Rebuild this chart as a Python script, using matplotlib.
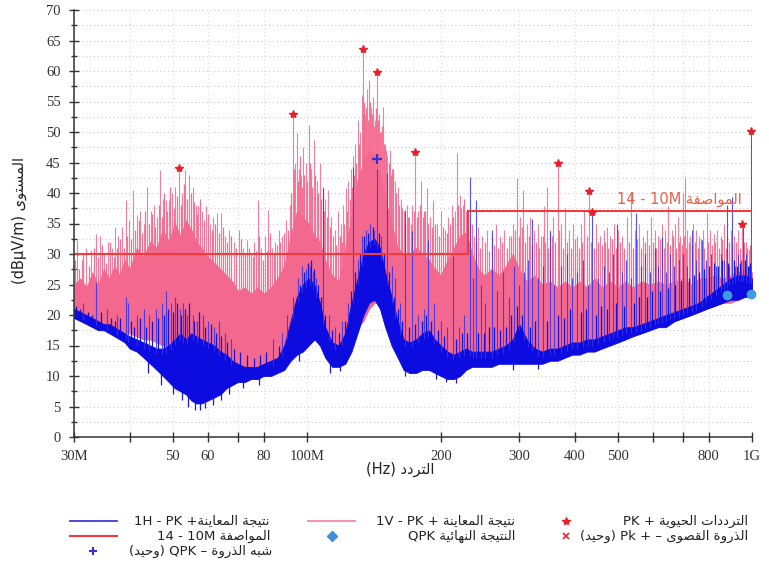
import numpy as np
import matplotlib
matplotlib.use("Agg")
import matplotlib.pyplot as plt
from matplotlib.lines import Line2D
from matplotlib.ticker import FixedLocator, FixedFormatter, MultipleLocator, NullLocator

# ---------------- data (MHz / dBuV/m) ----------------
F = [30, 31, 32, 33, 34, 35, 36, 37, 38, 39, 40,
     41.5, 43, 44.5, 46, 47.5, 49, 50.5, 52, 53.5, 55, 56.5, 58,
     60, 62, 64, 66, 68, 70,
     72.5, 75, 77.5, 80,
     83, 86, 89, 92, 95, 98, 101, 104, 107, 110,
     114, 118, 122, 126, 130, 134, 138, 142, 146, 150,
     155, 160, 165, 170, 176, 182, 188, 194, 200,
     207, 214, 221, 228, 235, 243, 251, 260, 270, 280, 290, 300,
     312, 325, 338, 352, 366, 380, 395, 410, 426, 443, 460, 480, 500,
     520, 540, 565, 590, 615, 640, 670, 700, 730, 760, 790, 825, 860, 895, 930, 965, 1000]

# vertical (V) scan: lower edge and dense-body top
V_LOW = [20.5, 20, 19.5, 19.5, 19, 18.5, 18, 18, 17.5, 17, 17,
         16.5, 16, 16, 15.5, 15, 14.5, 14, 14, 14, 13.5, 13.5, 13,
         13, 13, 12.5, 12.5, 12, 12,
         11.5, 11, 11, 11,
         11.5, 12, 13, 14, 16, 17, 17, 17, 16, 15,
         15, 15, 15.5, 16, 18, 19, 21, 22, 22, 19,
         16, 15, 14, 13.5, 13.5, 13.5, 13.5, 13.5, 13,
         13, 13, 13, 13, 13, 13, 13, 13, 13.5, 13.5, 13.5, 14,
         14, 14, 14, 14, 14.5, 14.5, 15, 15, 15.5, 15.5, 16, 16, 16.5,
         16.5, 17, 17.5, 18, 18, 18.5, 19, 19.5, 20, 20.5, 21, 21.5, 22, 22, 22.5, 23, 23]
V_CORE = [25, 26, 24.5, 27, 25, 27.5, 26, 28, 26.5, 29, 27.5,
          31, 29.5, 32, 31, 34, 32, 35, 33, 35.5, 34, 32, 31,
          29.5, 28.5, 27.5, 26.5, 25.5, 24,
          24.5, 23.5, 24.5, 23.5,
          24.5, 26, 28, 33, 37, 36, 35, 33, 32, 29,
          26.5, 25.5, 31, 36, 42, 45, 47, 46, 43, 39,
          35, 31, 30, 30, 31, 30, 29, 27.5, 26.5,
          29, 31, 33, 33.5, 30, 27.5, 26.5, 27.5, 26.5, 28, 30, 27.5,
          25.5, 26.5, 25, 25.5, 24.5, 25.5, 24.5, 25.5, 24.5, 26, 24.5, 25.5, 24.5,
          25.5, 24.5, 25.5, 25, 25.5, 25, 25.5, 26, 25, 26, 26, 26.5, 26, 26.5, 27, 27.5, 27]

# horizontal (H) scan
H_LOW = [19.5, 19, 18.5, 18, 17.5, 17.5, 17, 16.5, 16, 15.5, 14.5,
         14, 13, 12, 11, 10, 9, 8, 7.5, 7, 6, 5.5, 5.5,
         6, 6.5, 7, 8, 8.5, 9,
         9, 9.5, 9.5, 10,
         10, 10.5, 11, 12.5, 13.5, 14, 15, 16, 15, 13,
         11.5, 11.5, 12, 14, 17, 20, 22, 22.5, 21, 18,
         15, 13, 11, 10.5, 10.5, 11, 11, 10.5, 10,
         9.5, 9.5, 10, 11, 11.5, 11.5, 11.5, 11.5, 12, 12, 12, 12,
         12, 12, 12, 12.5, 12.5, 13, 13.5, 13.5, 14, 14, 14.5, 15, 15.5,
         16, 16.5, 17, 17.5, 18, 18, 19, 19.5, 20, 20.5, 21, 21.5, 22, 22.5, 22.5, 23, 23]
H_CORE = [21, 20.5, 20, 19.5, 19, 18.5, 18.5, 18, 17.5, 17, 16.5,
          16, 15.5, 15, 14.5, 14.5, 15, 16, 17, 16, 17, 16.5, 16,
          15.5, 15, 14, 13.5, 12.5, 12,
          11.5, 11.5, 11.5, 12,
          12.5, 13, 15, 19, 23, 25, 26, 25, 22, 18,
          15.5, 15, 17, 22, 26, 30, 32, 32.5, 31, 27,
          23, 19, 16, 15.5, 16, 17, 17.5, 16, 15,
          14, 13.5, 14, 14.5, 14, 14, 14, 14, 14.5, 15, 16, 18.5,
          16, 14.5, 14, 14.5, 14.5, 15, 15.5, 15.5, 16, 16, 16.5, 17, 17.5,
          18, 18, 18.5, 19, 19.5, 20, 20.5, 21, 21.5, 22, 23, 24, 25, 26, 26.5, 26.5, 26]

# tall individual peaks above the dense body (freq MHz, level)
V_PEAKS = [(30.5, 32.3), (31.2, 29), (31.9, 31), (32.8, 30.6), (33.6, 33.2), (34.3, 33), (35.0, 30),
           (35.8, 32), (36.5, 31), (37.0, 34.5), (37.7, 33), (38.5, 34.5), (39.2, 38.9), (39.8, 35.6),
           (40.7, 40.5), (41.5, 36.4), (42.3, 37), (43.0, 35), (43.8, 41), (44.6, 37), (45.3, 38),
           (46.1, 36), (46.9, 43.8), (47.5, 39), (48.2, 38.9), (49.0, 38.9), (49.8, 40), (50.7, 41),
           (51.7, 44.1), (52.5, 40), (53.4, 43.8), (54.5, 43), (55.4, 41), (56.3, 38), (57.1, 37.8),
           (58.2, 37), (59.4, 37.8), (60.5, 35), (61.7, 36), (63.0, 36.7), (64.3, 36.7), (65.5, 33),
           (67.0, 34), (68.5, 32), (70.5, 33.9), (72.0, 31), (73.3, 32.3), (75.0, 30), (76.3, 32),
           (77.6, 38.9), (79.0, 31), (80.5, 33), (82.0, 37.2), (83.5, 31), (85.0, 32), (86.5, 34),
           (88.0, 33), (90.0, 35.6), (91.5, 38), (93.0, 52.9), (94.0, 45), (94.9, 49.8), (96.0, 44),
           (97.0, 43), (98.0, 47.6), (99.5, 45), (101.1, 51.1), (102.3, 44), (103.6, 48.7), (105.2, 42),
           (107.0, 44.9), (108.5, 41), (110.0, 39), (111.6, 40.5), (113.5, 36), (115.5, 34), (117.5, 37),
           (119.5, 35), (120.8, 38), (122.2, 40.8), (124.0, 42), (125.5, 44), (127.0, 46), (128.5, 48),
           (130.2, 52), (131.5, 50), (132.8, 56), (134.0, 63.6), (135.3, 53), (136.6, 57), (138.2, 58.5),
           (139.6, 54), (141.1, 55.8), (142.5, 52), (144.0, 59.8), (145.3, 53), (146.8, 50), (148.6, 54.1),
           (150.2, 48), (151.8, 46), (153.5, 47), (155.5, 44), (157.5, 42), (160.0, 41), (162.5, 39),
           (165.0, 37), (167.5, 38), (170.0, 36), (172.5, 38), (175.4, 46.8), (178.0, 37), (180.9, 41.9),
           (183.5, 37), (185.9, 40.8), (189.0, 36), (192.4, 38.9), (196.0, 35), (200.0, 37), (204.0, 34),
           (208.0, 36), (212.0, 38), (215.0, 37), (217.4, 46.5), (220.4, 39.7), (224.0, 38), (228.0, 37),
           (232.0, 35), (237.0, 33), (242.0, 34.5), (248.0, 33), (254.0, 34), (260.0, 33), (266.0, 35),
           (272.0, 33), (278.0, 34), (284.0, 33), (290.0, 35), (297.0, 42.4), (301.5, 36), (306.4, 40.5),
           (312.0, 35), (318.0, 36), (324.0, 34), (330.0, 35), (336.0, 33), (341.0, 37.8), (345.9, 41),
           (352.0, 34), (358.0, 36), (366.7, 44.9), (373.0, 35), (380.4, 37.6), (388.0, 34), (396.0, 35),
           (404.0, 33), (412.0, 35), (420.0, 37.2), (431.0, 40.4), (446.0, 35), (456.0, 33), (464.0, 34),
           (472.0, 34.5), (481.0, 33), (490.0, 35), (500.0, 34), (511.0, 33), (524.0, 36.1), (534.7, 40),
           (546.0, 34), (558.0, 35), (570.0, 33), (582.0, 34), (592.0, 36), (604.0, 34), (616.0, 33),
           (628.0, 35), (638.0, 34), (648.6, 37.8), (660.0, 34), (670.0, 35), (682.0, 36), (690.0, 33),
           (700.0, 40), (707.3, 42.7), (716.0, 34), (726.0, 33), (738.0, 35), (750.0, 34), (762.0, 33),
           (775.0, 34), (791.5, 36.7), (805.0, 34), (820.0, 33.2), (835.0, 34), (850.0, 33), (865.0, 35),
           (880.0, 33), (895.0, 34), (912.0, 33), (930.0, 34), (951.0, 35), (968.0, 32), (983.0, 30.7)]

# smaller peaks that make up the ragged top of the V body
V_RIPPLE = [(30.2, 29), (30.8, 27.5), (31.5, 30), (32.4, 28), (33.2, 31), (33.9, 29.5), (34.7, 31.5),
            (35.4, 28.5), (36.2, 32), (36.8, 29.5), (37.4, 31), (38.1, 32.5), (38.9, 31), (39.5, 33),
            (40.3, 32.5), (41.1, 34), (41.9, 35.5), (42.7, 33.5), (43.4, 37), (44.2, 35), (45.0, 36.5),
            (45.7, 34.5), (46.5, 38), (47.2, 36), (47.9, 40), (48.6, 37), (49.4, 41), (50.3, 37.5),
            (51.2, 39.5), (52.1, 38), (52.9, 41.5), (53.9, 39), (54.9, 40), (55.9, 38.5), (56.7, 36.5),
            (57.6, 39), (58.8, 35.5), (60.0, 36.5), (61.1, 34), (62.3, 35), (63.6, 33.5), (64.9, 34.5),
            (66.2, 32), (67.7, 33), (69.3, 31), (71.2, 32.5), (72.7, 30), (74.2, 31), (75.7, 29.5),
            (77.0, 30.5), (78.3, 33), (79.7, 29), (81.2, 30.5), (82.8, 33.5), (84.2, 30), (85.8, 31.5),
            (87.2, 32), (89.0, 33.5), (90.8, 34), (92.3, 40), (93.6, 44), (95.4, 42), (96.5, 46),
            (97.5, 41), (98.8, 43), (100.3, 42), (101.7, 45), (102.9, 41), (104.4, 43), (106.0, 40),
            (107.8, 39), (109.2, 37), (110.8, 36), (112.5, 34.5), (114.5, 33), (116.5, 31.5), (118.5, 33),
            (120.0, 32), (121.5, 35), (123.0, 37), (124.8, 39), (126.3, 41), (127.8, 43), (129.3, 45),
            (130.9, 48), (133.4, 53), (134.7, 55), (136.0, 54), (137.4, 52), (138.9, 55), (140.3, 53),
            (141.8, 51), (143.2, 54), (144.7, 52), (146.0, 50), (147.6, 51), (149.4, 48), (151.0, 47),
            (152.6, 45), (154.5, 43), (156.5, 44), (158.7, 40), (161.2, 38), (163.7, 37.5), (166.2, 35),
            (168.7, 36), (171.2, 35), (173.8, 37), (176.7, 36), (179.4, 38), (182.2, 36), (184.7, 37),
            (187.5, 35), (190.7, 34.5), (194.2, 35), (198.0, 33), (202.0, 34.5), (206.0, 33.5), (210.0, 35),
            (213.5, 36), (218.8, 38), (222.2, 37.5), (226.0, 39), (230.0, 36), (234.5, 35), (239.5, 32),
            (245.0, 31), (251.0, 32), (257.0, 30.5), (263.0, 31.5), (269.0, 31), (275.0, 32), (281.0, 31),
            (287.0, 33), (293.5, 34), (299.5, 33), (304.0, 34.5), (309.0, 32), (315.0, 33), (321.0, 31.5),
            (327.0, 32), (333.0, 31), (338.5, 33), (343.5, 32), (349.0, 31), (355.0, 33), (361.0, 32),
            (369.5, 34), (376.0, 31), (384.0, 32), (392.0, 31), (400.0, 32.5), (408.0, 31), (416.0, 32),
            (425.0, 33), (435.0, 32), (441.0, 31), (451.0, 32), (460.0, 31.5), (468.0, 32), (476.0, 31),
            (485.0, 32.5), (495.0, 31), (505.0, 32), (517.0, 31), (529.0, 32), (540.0, 31), (552.0, 32.5),
            (564.0, 31), (576.0, 32), (587.0, 31.5), (598.0, 32), (610.0, 31), (622.0, 32.5), (633.0, 31),
            (643.0, 32), (654.0, 31.5), (665.0, 33), (676.0, 31), (686.0, 32), (695.0, 31.5), (704.0, 33),
            (711.0, 31), (721.0, 32), (732.0, 31.5), (744.0, 32), (756.0, 31), (768.0, 32.5), (782.0, 31),
            (798.0, 32), (812.0, 31.5), (827.0, 32), (842.0, 31), (857.0, 32.5), (872.0, 31), (887.0, 32),
            (903.0, 31.5), (920.0, 32), (940.0, 31), (960.0, 32), (975.0, 31), (990.0, 31.5)]

H_PEAKS = [(31.5, 22), (33.6, 25.2), (35.5, 21), (37.5, 20), (39.3, 23), (39.7, 22), (41.5, 20),
           (43.0, 21), (44.3, 20), (45.8, 21), (47.2, 22), (48.3, 24), (49.5, 22), (50.6, 23), (51.8, 21),
           (52.8, 22), (53.8, 20), (55.4, 20), (56.8, 19), (58.5, 20), (60.0, 19), (61.8, 18), (63.5, 19),
           (65.5, 17), (67.5, 16), (84.0, 16), (88.0, 17), (90.5, 20), (93.0, 23), (95.5, 26), (97.5, 28),
           (99.5, 27.5), (101.5, 28), (103.0, 27), (105.0, 26), (108.9, 40.8), (112.0, 20), (116.0, 18),
           (120.0, 19), (124.0, 22), (127.0, 44.3), (130.0, 29), (133.0, 33), (136.0, 34), (139.0, 35),
           (141.5, 34), (143.6, 44), (147.0, 33), (151.4, 43.2), (155.0, 28), (158.0, 26), (162.0, 22),
           (166.5, 37.2), (172.4, 33.7), (178.0, 20), (183.0, 21), (187.5, 32.3), (193.0, 22), (200.0, 19),
           (206.0, 18), (212.9, 29.6), (220.0, 18), (226.0, 20), (232.1, 42.7), (236.0, 26), (240.5, 38.9),
           (246.0, 25), (252.0, 22), (260.5, 33.9), (268.0, 24), (276.0, 27), (284.0, 23), (292.0, 28),
           (300.0, 25), (308.0, 27), (314.0, 29), (320.3, 35.8), (330.0, 26), (340.0, 28), (351.4, 33.7),
           (360.0, 25), (372.0, 28), (384.0, 30), (395.0, 26), (405.0, 27), (418.0, 29), (428.0, 25),
           (438.0, 36.9), (452.0, 26), (465.0, 28), (478.0, 27), (488.0, 30), (497.0, 35), (510.0, 27),
           (522.0, 29), (535.0, 26), (549.0, 36.7), (562.0, 28), (575.0, 30), (590.0, 27), (605.0, 31),
           (616.0, 28), (627.0, 32.8), (640.0, 27), (655.0, 30), (668.0, 28), (685.0, 29), (700.0, 30),
           (715.0, 28), (732.0, 33.9), (750.0, 29), (771.0, 32.3), (790.0, 29), (810.0, 30), (830.0, 28),
           (850.0, 30), (865.0, 29), (877.0, 38), (890.0, 28), (900.0, 39.4), (915.0, 28), (930.0, 30),
           (945.0, 29), (956.0, 35), (970.0, 30), (985.0, 28), (997.0, 50.2)]

H_RIPPLE = [(30.3, 21.5), (30.9, 21), (32.2, 20.5), (32.9, 20), (34.5, 20.5), (36.3, 19.5), (37.0, 19),
            (38.0, 19.5), (40.2, 19), (41.0, 18), (42.2, 19.5), (43.6, 18), (44.9, 19), (46.4, 19.5),
            (47.7, 20), (48.9, 21), (50.1, 20.5), (51.2, 22), (52.3, 20), (53.3, 21), (54.4, 22),
            (55.9, 19), (57.3, 20.5), (59.2, 18), (61.0, 18.5), (62.6, 17), (64.3, 16.5), (66.3, 15.5),
            (68.5, 14.5), (70.8, 14), (73.5, 13.5), (76.0, 13), (78.5, 13.5), (81.0, 14), (86.5, 15),
            (91.5, 18), (94.3, 22), (96.3, 25), (98.5, 27), (100.5, 28.5), (102.3, 29), (104.0, 27.5),
            (106.0, 25), (107.5, 23), (110.0, 20), (114.0, 17.5), (118.0, 17), (122.0, 19), (125.5, 24),
            (128.5, 27), (131.5, 30), (134.5, 33), (137.5, 33.5), (140.5, 34.5), (145.0, 33.5), (149.0, 30),
            (153.0, 27), (157.0, 23), (160.5, 21), (164.0, 19), (170.0, 18), (175.0, 18.5), (181.0, 19),
            (185.0, 20), (190.0, 19), (197.0, 17.5), (203.0, 16.5), (216.0, 16), (223.0, 17), (229.0, 17),
            (242.0, 17), (250.0, 17), (256.0, 18), (264.0, 18), (272.0, 17.5), (280.0, 18), (288.0, 20),
            (296.0, 21.5), (304.0, 20), (318.0, 18), (326.0, 19), (346.0, 19), (366.0, 20), (378.0, 19.5),
            (390.0, 21), (412.0, 20.5), (424.0, 21), (446.0, 20), (458.0, 21.5), (472.0, 21), (494.0, 22),
            (516.0, 21.5), (542.0, 22), (556.0, 23), (582.0, 23), (597.0, 24), (620.0, 24), (647.0, 24.5),
            (672.0, 25), (692.0, 25.5), (722.0, 26), (742.0, 26.5), (760.0, 27), (780.0, 27.5), (800.0, 28),
            (820.0, 28.5), (840.0, 28), (858.0, 29), (885.0, 28.5), (910.0, 29), (925.0, 28), (940.0, 28.5),
            (962.0, 29), (978.0, 28), (992.0, 28.5)]

# downward dips of the H trace below its lower edge
H_DIPS = [(44.0, 10.5), (47.0, 8.5), (50.0, 7), (52.5, 6), (54.2, 5), (56.0, 4.5), (57.5, 4.5),
          (59.0, 4.8), (61.5, 5.2), (64.0, 6), (67.0, 7), (72.0, 8), (78.0, 8.5), (96.0, 12.5),
          (113.0, 10.5), (119.0, 10.8), (166.0, 10), (195.0, 9.5), (205.0, 9), (216.0, 8.8),
          (290.0, 11), (330.0, 11.2)]

LIMIT_EDGES = [30, 230, 1000]
LIMIT_LEVELS = [30, 37]

STAR_F = [51.7, 93.0, 134.0, 144.0, 175.4, 366.7, 431.0, 438.0, 951.0, 997.0]
STAR_L = [44.1, 52.9, 63.6, 59.8, 46.8, 44.9, 40.4, 36.9, 35.0, 50.2]
QPK_F = [877.0, 997.0]
QPK_L = [23.3, 23.4]
QP_SINGLE_F = [144.0]
QP_SINGLE_L = [45.5]

XTICKS = [30, 40, 50, 60, 70, 80, 100, 200, 300, 400, 500, 600, 700, 800, 1000]
XTICK_LABELS = ["30M", "", "50", "60", "", "80", "100M", "200", "300", "400", "500", "", "", "800", "1G"]

# ---------------- Arabic shaping (presentation forms) ----------------
FORMS = {
    'ا': (0xFE8D, 0xFE8E, None, None), 'أ': (0xFE83, 0xFE84, None, None),
    'إ': (0xFE87, 0xFE88, None, None), 'آ': (0xFE81, 0xFE82, None, None),
    'ب': (0xFE8F, 0xFE90, 0xFE91, 0xFE92), 'ة': (0xFE93, 0xFE94, None, None),
    'ت': (0xFE95, 0xFE96, 0xFE97, 0xFE98), 'ث': (0xFE99, 0xFE9A, 0xFE9B, 0xFE9C),
    'ج': (0xFE9D, 0xFE9E, 0xFE9F, 0xFEA0), 'ح': (0xFEA1, 0xFEA2, 0xFEA3, 0xFEA4),
    'خ': (0xFEA5, 0xFEA6, 0xFEA7, 0xFEA8), 'د': (0xFEA9, 0xFEAA, None, None),
    'ذ': (0xFEAB, 0xFEAC, None, None), 'ر': (0xFEAD, 0xFEAE, None, None),
    'ز': (0xFEAF, 0xFEB0, None, None), 'س': (0xFEB1, 0xFEB2, 0xFEB3, 0xFEB4),
    'ش': (0xFEB5, 0xFEB6, 0xFEB7, 0xFEB8), 'ص': (0xFEB9, 0xFEBA, 0xFEBB, 0xFEBC),
    'ض': (0xFEBD, 0xFEBE, 0xFEBF, 0xFEC0), 'ط': (0xFEC1, 0xFEC2, 0xFEC3, 0xFEC4),
    'ظ': (0xFEC5, 0xFEC6, 0xFEC7, 0xFEC8), 'ع': (0xFEC9, 0xFECA, 0xFECB, 0xFECC),
    'غ': (0xFECD, 0xFECE, 0xFECF, 0xFED0), 'ف': (0xFED1, 0xFED2, 0xFED3, 0xFED4),
    'ق': (0xFED5, 0xFED6, 0xFED7, 0xFED8), 'ك': (0xFED9, 0xFEDA, 0xFEDB, 0xFEDC),
    'ل': (0xFEDD, 0xFEDE, 0xFEDF, 0xFEE0), 'م': (0xFEE1, 0xFEE2, 0xFEE3, 0xFEE4),
    'ن': (0xFEE5, 0xFEE6, 0xFEE7, 0xFEE8), 'ه': (0xFEE9, 0xFEEA, 0xFEEB, 0xFEEC),
    'و': (0xFEED, 0xFEEE, None, None), 'ى': (0xFEEF, 0xFEF0, None, None),
    'ي': (0xFEF1, 0xFEF2, 0xFEF3, 0xFEF4), 'ئ': (0xFE89, 0xFE8A, 0xFE8B, 0xFE8C),
}
LAM_ALEF = {'ا': (0xFEFB, 0xFEFC), 'أ': (0xFEF7, 0xFEF8), 'إ': (0xFEF9, 0xFEFA), 'آ': (0xFEF5, 0xFEF6)}


def shape(text):
    out, i, n, prev = [], 0, len(text), False
    while i < n:
        c = text[i]
        if c not in FORMS:
            out.append(c); prev = False; i += 1; continue
        if c == 'ل' and i + 1 < n and text[i + 1] in LAM_ALEF:
            iso, fin = LAM_ALEF[text[i + 1]]
            out.append(chr(fin if prev else iso)); prev = False; i += 2; continue
        f = FORMS[c]
        nxt = text[i + 1] if i + 1 < n else None
        can_next = f[2] is not None and nxt in FORMS
        if prev and can_next:
            g = f[3]
        elif prev:
            g = f[1]
        elif can_next:
            g = f[2]
        else:
            g = f[0]
        out.append(chr(g)); prev = can_next; i += 1
    return ''.join(out)


def ar(text):
    return shape(text)[::-1]


AR_FONT = "DejaVu Sans"

# ---------------- figure ----------------
fig = plt.figure(figsize=(7.69, 5.69), dpi=100)
ax = fig.add_axes([74 / 769, 1 - 437 / 569, 678 / 769, 427 / 569])
ax.set_xscale("log")
ax.set_xlim(30, 1000)
ax.set_ylim(0, 70)

PINK = "#f2688f"
BLUE = "#0c0ce0"

Fa = np.array(F)
logF = np.log(Fa)


def spikes(pairs, edge, color, lw, alpha, z, offset=-1.0):
    fs, ls = zip(*pairs)
    base = np.interp(np.log(fs), logF, edge) + offset
    ax.vlines(fs, base, ls, colors=color, lw=lw, alpha=alpha, zorder=z)


ax.fill_between(F, V_LOW, V_CORE, color=PINK, lw=0.6, zorder=2)
spikes(V_RIPPLE, V_CORE, PINK, 0.9, 0.95, 2)
spikes(V_PEAKS, V_CORE, PINK, 0.8, 0.85, 2)

ax.fill_between(F, H_LOW, H_CORE, color=BLUE, lw=0.6, zorder=3)
spikes(H_RIPPLE, H_CORE, BLUE, 0.9, 0.95, 3)
spikes(H_PEAKS, H_CORE, "#3434f0", 0.8, 0.85, 3)
spikes(H_DIPS, H_LOW, BLUE, 0.9, 0.95, 3, offset=1.0)

ax.stairs(LIMIT_LEVELS, LIMIT_EDGES, baseline=None, color="#f03c3c", lw=1.5, zorder=4)

ax.plot(STAR_F, STAR_L, ls="none", marker="*", ms=6, color="#e8202c", zorder=6, clip_on=False)
ax.plot(QPK_F, QPK_L, ls="none", marker="o", ms=6, color="#3d9be0", zorder=6, clip_on=False)
ax.plot(QP_SINGLE_F, QP_SINGLE_L, ls="none", marker="+", ms=7, mew=1.6, color="#3a2fc8", zorder=6)

ax.text(497, 39, "14 - 10M " + ar("المواصفة"), color="#e8604a", fontsize=10.5,
        family=AR_FONT, ha="left", va="center", zorder=7)

# axes styling
for s in ("top", "right"):
    ax.spines[s].set_visible(False)
for s in ("left", "bottom"):
    ax.spines[s].set_color("#333333")
    ax.spines[s].set_linewidth(1.1)
    ax.spines[s].set_zorder(8)

ax.xaxis.set_major_locator(FixedLocator(XTICKS))
ax.xaxis.set_major_formatter(FixedFormatter(XTICK_LABELS))
ax.xaxis.set_minor_locator(NullLocator())
ax.yaxis.set_major_locator(MultipleLocator(5))
ax.yaxis.set_minor_locator(MultipleLocator(2.5))
ax.tick_params(which="major", direction="inout", length=7, width=1, color="#333333",
               labelsize=10.5, labelcolor="#333333", labelfontfamily="Liberation Serif")
ax.tick_params(which="minor", direction="inout", length=5, width=1, color="#333333")
ax.tick_params(axis="x", pad=6)
ax.tick_params(axis="y", pad=6)

ax.grid(True, axis="y", which="both", color="#cfcfcf", ls=(0, (1, 2.5)), lw=0.8, zorder=0)
ax.grid(True, axis="x", which="major", color="#dcdcdc", ls=(0, (1, 2.5)), lw=0.8, zorder=0)
ax.set_axisbelow(True)

ax.set_xlabel("(Hz) " + ar("التردد"), family=AR_FONT, fontsize=10.5, color="#222222")
ax.xaxis.set_label_coords((400 - 74) / 678, (437 - 462) / 427)
ax.set_ylabel("(dBµV/m) " + ar("المستوى"), family=AR_FONT, fontsize=10.5, color="#222222")
ax.yaxis.set_label_coords((27 - 74) / 678, (437 - 220) / 427)

# ---------------- legend (three columns, right-aligned text) ----------------
def fx(px):
    return px / 769


def fy(py):
    return 1 - py / 569


rows = [521, 536, 551]
LEG_FS = 9.5


def handle_line(x0, x1, y, color, lw):
    fig.add_artist(Line2D([fx(x0), fx(x1)], [fy(y), fy(y)], color=color, lw=lw,
                          transform=fig.transFigure))


def handle_marker(x, y, **kw):
    fig.add_artist(Line2D([fx(x)], [fy(y)], ls="none", transform=fig.transFigure, **kw))


def leg_text(xr, y, s):
    fig.text(fx(xr), fy(y), s, ha="right", va="center", fontsize=LEG_FS, family=AR_FONT,
             color="#222222")


handle_line(70, 117, rows[0], "#3b3bd8", 1.3)
leg_text(270, rows[0], "1H - PK +" + ar("نتيجة المعاينة"))
handle_line(70, 117, rows[1], "#f03c3c", 1.5)
leg_text(270, rows[1], "14 - 10M " + ar("المواصفة"))
handle_marker(93, rows[2], marker="+", ms=6, mew=1.5, color="#3a2fc8")
leg_text(272, rows[2], "(" + ar("وحيد") + ") QPK – " + ar("شبه الذروة"))

handle_line(308, 355, rows[0], "#f48aa8", 1.3)
leg_text(515, rows[0], "1V - PK + " + ar("نتيجة المعاينة"))
handle_marker(332, rows[1], marker="D", ms=5, color="#3d8fd8")
leg_text(515, rows[1], "QPK " + ar("النتيجة النهائية"))

handle_marker(566, rows[0], marker="*", ms=6, color="#e8202c")
leg_text(748, rows[0], "PK + " + ar("الترددات الحيوية"))
handle_marker(566, rows[1], marker="x", ms=5, mew=1.2, color="#e8202c")
leg_text(748, rows[1], "(" + ar("وحيد") + ") Pk + – " + ar("الذروة القصوى"))

fig.savefig("out.png", dpi=100, facecolor="white")
